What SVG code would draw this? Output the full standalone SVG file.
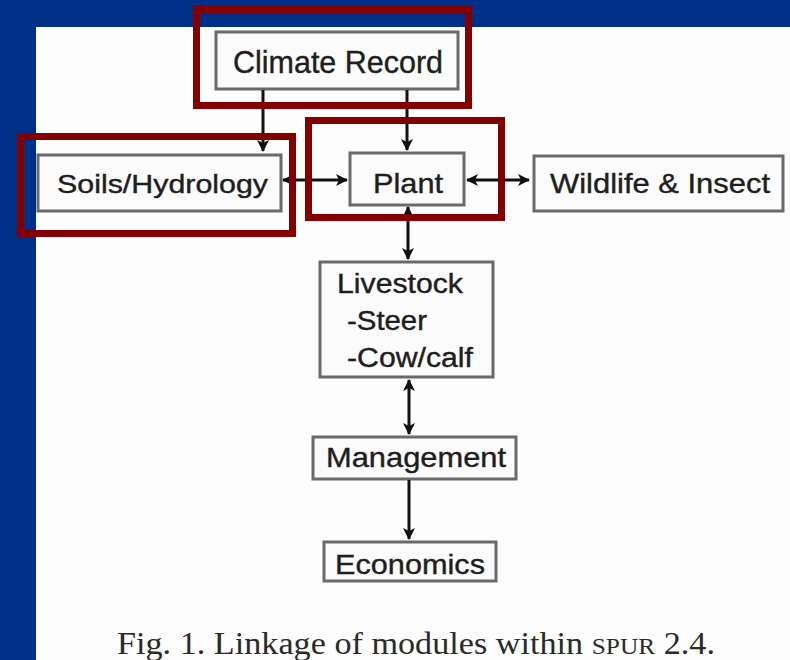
<svg xmlns="http://www.w3.org/2000/svg" width="790" height="660" viewBox="0 0 790 660">
<style>
.box{fill:#fbfbfb;stroke:#6a6a6a;stroke-width:3}
.lbl{font-family:"Liberation Sans",Arial,sans-serif;fill:#1e1e1e;stroke:#1e1e1e;stroke-width:0.4}
.hl{fill:none;stroke:#820000;stroke-width:7}
.arr{stroke:#111;stroke-width:3;fill:none}
.cap{font-family:"Liberation Serif","Times New Roman",serif;fill:#2a2a2a;font-size:31px}
</style>
<defs>
<marker id="ah" viewBox="0 0 12 12" refX="11" refY="6" markerWidth="12" markerHeight="12" markerUnits="userSpaceOnUse" orient="auto-start-reverse">
<path d="M0,0 L12,6 L0,12 L3,6 Z" fill="#111"/>
</marker>
</defs>
<rect x="0" y="0" width="790" height="660" fill="#002f88"/>
<rect x="36" y="27" width="754" height="633" fill="#fdfdfd"/>

<g id="climate">
<rect class="box" x="216" y="32" width="242" height="57"/>
<text class="lbl" x="233" y="73" font-size="32" textLength="210" lengthAdjust="spacingAndGlyphs">Climate Record</text>
</g>
<g id="soils">
<rect class="box" x="38" y="155" width="243" height="56"/>
<text class="lbl" x="57" y="193" font-size="26" textLength="211" lengthAdjust="spacingAndGlyphs">Soils/Hydrology</text>
</g>
<g id="plant">
<rect class="box" x="350" y="153" width="114" height="52"/>
<text class="lbl" x="373" y="193" font-size="28" textLength="70" lengthAdjust="spacingAndGlyphs">Plant</text>
</g>
<g id="wildlife">
<rect class="box" x="534" y="156" width="249" height="55"/>
<text class="lbl" x="550" y="193" font-size="28" textLength="220" lengthAdjust="spacingAndGlyphs">Wildlife &amp; Insect</text>
</g>
<g id="livestock">
<rect class="box" x="320" y="262" width="173" height="115"/>
<text class="lbl" x="337" y="293" font-size="27" textLength="126" lengthAdjust="spacingAndGlyphs">Livestock</text>
<text class="lbl" x="347" y="330" font-size="27" textLength="80" lengthAdjust="spacingAndGlyphs">-Steer</text>
<text class="lbl" x="347" y="367" font-size="27" textLength="126" lengthAdjust="spacingAndGlyphs">-Cow/calf</text>
</g>
<g id="management">
<rect class="box" x="313" y="437" width="203" height="42"/>
<text class="lbl" x="326" y="467" font-size="28" textLength="180" lengthAdjust="spacingAndGlyphs">Management</text>
</g>
<g id="economics">
<rect class="box" x="324" y="542" width="172" height="39"/>
<text class="lbl" x="335" y="574" font-size="28" textLength="150" lengthAdjust="spacingAndGlyphs">Economics</text>
</g>

<g id="connectors">
<line class="arr" x1="263" y1="90" x2="263" y2="151" marker-end="url(#ah)"/>
<line class="arr" x1="407" y1="90" x2="407" y2="150" marker-end="url(#ah)"/>
<line class="arr" x1="283" y1="180" x2="347" y2="180" marker-start="url(#ah)" marker-end="url(#ah)"/>
<line class="arr" x1="467" y1="180" x2="529" y2="180" marker-start="url(#ah)" marker-end="url(#ah)"/>
<line class="arr" x1="408" y1="207" x2="408" y2="259" marker-start="url(#ah)" marker-end="url(#ah)"/>
<line class="arr" x1="409" y1="380" x2="409" y2="434" marker-start="url(#ah)" marker-end="url(#ah)"/>
<line class="arr" x1="409" y1="480" x2="409" y2="539" marker-end="url(#ah)"/>
</g>

<g id="highlights">
<rect class="hl" x="196.5" y="9.5" width="272" height="96"/>
<rect class="hl" x="20.5" y="136.5" width="272" height="97"/>
<rect class="hl" x="308.5" y="120.5" width="193" height="97"/>
</g>

<text class="cap" x="117" y="654" textLength="598" lengthAdjust="spacingAndGlyphs">Fig. 1. Linkage of modules within <tspan font-size="23">SPUR</tspan> 2.4.</text>
</svg>
